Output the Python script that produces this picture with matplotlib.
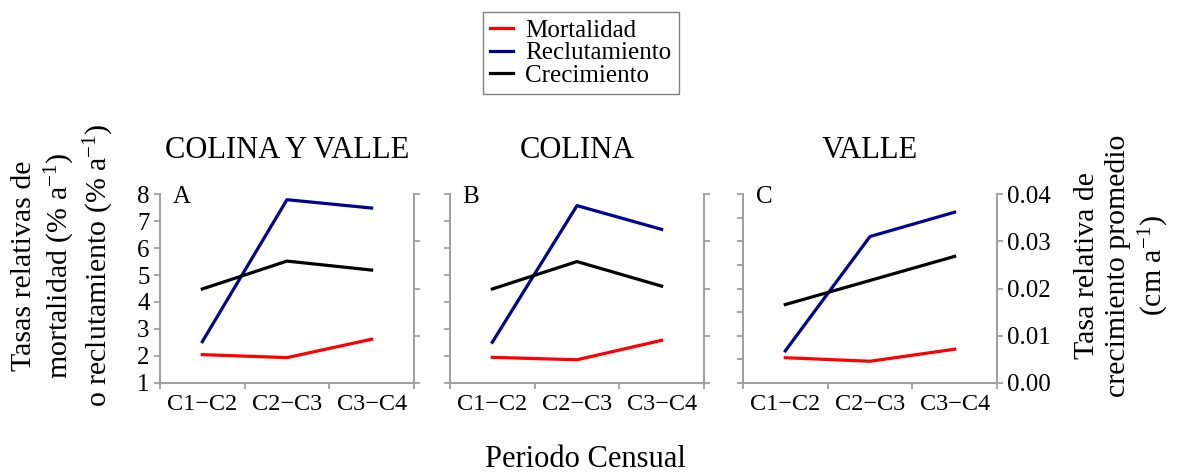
import matplotlib.pyplot as plt
import numpy as np

plt.rcParams['font.family'] = ['Liberation Serif', 'DejaVu Serif']
plt.rcParams['mathtext.fontset'] = 'custom'
plt.rcParams['mathtext.rm'] = 'Liberation Serif'
plt.rcParams['mathtext.it'] = 'Liberation Serif:italic'

# census periods and panels
periods = ['C1\u2212C2', 'C2\u2212C3', 'C3\u2212C4']
titles = ['COLINA Y VALLE', 'COLINA', 'VALLE']
letters = ['A', 'B', 'C']

# mortality and recruitment (% per year), left axis
mortalidad = [[2.05, 1.94, 2.62],
              [1.95, 1.86, 2.58],
              [2.07, 1.92, 2.43]]
reclutamiento = [[2.53, 7.79, 7.48],
                 [2.51, 7.57, 6.69],
                 [2.36, 7.20, 8.23]]
# mean relative growth (cm per year), right axis
crecimiento = [[0.0199, 0.0258, 0.0239],
               [0.0199, 0.0257, 0.0205],
               [0.0166, 0.0217, 0.0268]]
left_lims = [(1, 8), (1, 8), (1, 9)]

grey = '#a0a0a0'
fig = plt.figure(figsize=(11.78, 4.74), dpi=100)
lefts = [0.1358, 0.382, 0.6307]
x = np.arange(3) + 0.5

for i in range(3):
    ax = fig.add_axes([lefts[i], 0.192, 0.2156, 0.3987])
    ax2 = ax.twinx()
    l1, = ax.plot(x, mortalidad[i], color='#ff0000', lw=2.3, label='Mortalidad')
    l2, = ax.plot(x, reclutamiento[i], color='#000099', lw=2.3, label='Reclutamiento')
    l3, = ax2.plot(x, crecimiento[i], color='black', lw=2.3, label='Crecimiento')

    lo, hi = left_lims[i]
    ax.set_ylim(lo, hi)
    ax.set_yticks(np.arange(lo, hi + 1))
    ax2.set_ylim(0, 0.04)
    ax2.set_yticks([0, 0.01, 0.02, 0.03, 0.04])
    ax.set_xlim(0, 3)
    ax.set_xticks([0, 1, 2, 3])
    ax.set_xticklabels([])
    ax.set_xticks(x, minor=True)
    ax.set_xticklabels(periods, minor=True, fontsize=17.5)
    ax.tick_params(axis='x', which='minor', length=0, pad=8)

    for a in (ax, ax2):
        for s in ('left', 'right', 'bottom'):
            a.spines[s].set_color(grey)
            a.spines[s].set_linewidth(1.3)
        a.spines['top'].set_visible(False)
        a.tick_params(which='major', color=grey, width=1.3, length=4, labelsize=18)

    if i != 0:
        ax.set_yticklabels([])
    else:
        ax.set_yticklabels([str(v) for v in range(1, 9)])
    if i != 2:
        ax2.set_yticklabels([])
    else:
        ax2.set_yticklabels(['0.00', '0.01', '0.02', '0.03', '0.04'])

    ax.set_title(titles[i], fontsize=22, pad=26)
    ax.text(0.05, 1.045, letters[i], transform=ax.transAxes, fontsize=18,
            va='top', ha='left')

fig.text(0.054, 0.44, 'Tasas relativas de\nmortalidad (% a$^{-1}$)\no reclutamiento (% a$^{-1}$)',
         rotation=90, ha='center', va='center', fontsize=21.5, linespacing=1.2)
fig.text(0.953, 0.44, 'Tasa relativa de\ncrecimiento promedio\n(cm a$^{-1}$)',
         rotation=90, ha='center', va='center', fontsize=21.5, linespacing=1.25)
fig.text(0.497, 0.03, 'Periodo Censual', ha='center', va='center', fontsize=22)

leg = fig.legend(handles=[l1, l2, l3], loc='center', bbox_to_anchor=(0.493, 0.888),
                 fontsize=18, frameon=True, fancybox=False, edgecolor='#606060',
                 handlelength=0.9, borderpad=0.3, labelspacing=0.0,
                 handletextpad=0.5)
leg.get_frame().set_linewidth(1.0)

fig.savefig('out.png', dpi=100)
